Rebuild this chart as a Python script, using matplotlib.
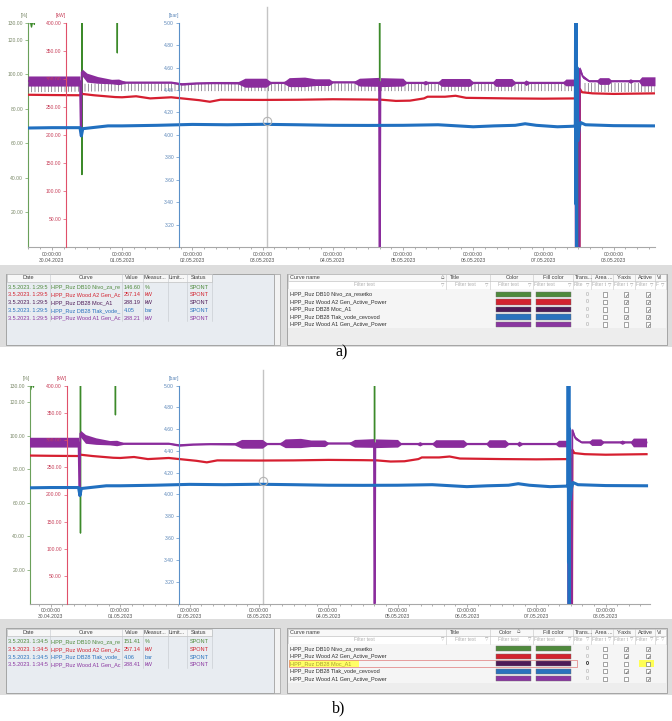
import matplotlib.pyplot as plt
import numpy as np
from matplotlib.patches import Rectangle
from matplotlib.ticker import MultipleLocator

plt.rcParams['font.family'] = ['Liberation Sans', 'DejaVu Sans']
plt.rcParams['hatch.linewidth'] = 0.5

W, H = 672, 721

# ---- trend values (time in days from 30.04.2023 00:00) ----
day_labels = ["30.04.2023", "01.05.2023", "02.05.2023", "03.05.2023", "04.05.2023",
              "05.05.2023", "06.05.2023", "07.05.2023", "08.05.2023"]
pct_ticks = [20, 40, 60, 80, 100, 120, 130]
kw_ticks = [50, 100, 150, 200, 250, 300, 350, 400]
bar_ticks = [3.2, 3.4, 3.6, 3.8, 4.0, 4.2, 4.4, 4.6, 4.8, 5.0]

# DB10 Nivo_za_resetko [%] (mostly above the scale)
green_t = [-0.34, -0.31, -0.29, -0.27, -0.25, -0.23, 0.425, 0.428, 0.431,
           0.93, 0.932, 0.934, 4.665, 4.668, 4.671, 8.59]
green_pct = [128.5, 131.5, 127.5, 131.5, 129, 146.6, 146.6, 42, 146.6,
             146.6, 112.5, 146.6, 146.6, 85, 146.6, 146.6]

# Wood A2 Gen_Active_Power [kW]
red_t = [-0.34, 0.0, 0.40, 0.43, 0.60, 0.90, 1.00, 1.20, 1.40, 1.70, 1.90, 2.10,
         2.25, 2.40, 3.00, 3.50, 4.00, 4.50, 4.70, 4.90, 5.10, 5.30, 5.35, 5.60,
         5.75, 5.90, 6.50, 7.00, 7.50, 7.505, 7.515, 7.52, 7.55, 7.70, 8.00, 8.59]
red_kw = [271.5, 271, 270.6, 273, 270.6, 267.4, 267, 268.8, 265, 267, 264.4, 261.8,
          259, 262.6, 262.3, 262.6, 263.5, 263, 262.6, 260.5, 261, 265, 268, 268,
          269.7, 266, 265, 264.5, 265, 0, 0, 282, 276, 274, 273, 274]

# Wood A1 Gen_Active_Power [kW]: level and half width of the noise band
purple_t = [-0.34, 0.40, 0.412, 0.418, 0.425, 0.50, 0.65, 0.85, 0.95, 1.05,
            1.70, 1.85, 2.05, 2.30, 2.65, 2.75, 3.05, 3.12, 3.30, 3.38,
            3.60, 3.75, 3.95, 4.00, 4.30, 4.38, 4.66, 4.665, 4.672, 4.68,
            5.00, 5.05, 5.28, 5.32, 5.36, 5.50, 5.55, 5.95, 6.00, 6.28,
            6.32, 6.55, 6.60, 6.72, 6.75, 6.80, 7.28, 7.32, 7.455, 7.46,
            7.515, 7.52, 7.56, 7.65, 7.76, 7.80, 7.93, 7.97, 8.20, 8.24,
            8.28, 8.36, 8.40, 8.59]
purple_kw = [296, 296, 198, 198, 312, 302, 298, 295, 294.5, 293.5,
             293.5, 290.5, 292, 292.7, 292.7, 293, 293, 293, 293, 294,
             294.5, 294, 294, 294, 294, 294, 294.5, 0, 0, 294,
             294, 293, 293, 293, 293, 293, 293.5, 293.5, 293, 293,
             293.5, 293.5, 293, 293, 293, 293, 293, 293.5, 293.5, 0,
             0, 318, 304, 296, 296, 296, 296, 296, 296, 296,
             296, 296, 295.5, 295.5]
purple_spread = [9, 9, 0, 0, 6, 8, 6, 4, 5, 1.5,
                 1.5, 2, 1.5, 1.5, 2, 8, 8, 1.5, 1.5, 8,
                 8.5, 6, 6, 1.5, 1.5, 7, 8, 0, 0, 8,
                 7, 1.5, 1.5, 4, 1.5, 1.5, 7, 7, 1.5, 1.5,
                 7, 7, 1.5, 1.5, 5, 1.5, 1.5, 6, 6, 0,
                 0, 4, 3, 1.5, 1.5, 6, 6, 1.5, 1.5, 4,
                 1.5, 1.5, 8, 8]

# DB28 Moc_A1 [kW]: range of its short downward dips
moc_t = [-0.34, 0.40, 1.0, 2.0, 3.0, 4.0, 5.0, 6.0, 7.0, 7.45, 7.455, 7.55, 8.0, 8.59]
moc_low = [276, 277, 278, 278, 278, 278, 278, 278, 278, 278, np.nan, 276, 276, 276]
moc_high = [291, 291, 292, 291.5, 291.5, 292, 291.5, 291.5, 291.5, 291.5, np.nan, 293, 293, 293]

# DB28 Tlak_vode_cevovod [bar]
blue_t = [-0.34, 0.0, 0.40, 0.42, 0.44, 0.80, 1.00, 1.50, 2.00, 2.50,
          3.00, 3.50, 4.00, 4.50, 5.00, 5.50, 6.00, 6.30, 6.60, 6.74,
          6.90, 7.20, 7.44, 7.455, 7.46, 7.465, 7.47, 7.475, 7.48, 7.49,
          7.51, 7.53, 7.60, 8.00, 8.59]
blue_bar = [4.061, 4.064, 4.064, 3.99, 4.055, 4.08, 4.08, 4.085, 4.093, 4.09,
            4.094, 4.09, 4.085, 4.084, 4.085, 4.09, 4.072, 4.08, 4.085, 4.099,
            4.085, 4.072, 4.077, 4.08, 5.3, 3.38, 5.25, 2.9, 4.6, 3.95,
            4.06, 4.11, 4.09, 4.082, 4.08]

cursor_t = 3.06
cursor_bar = 4.12

# ---- table values ----
curve_names = ["HPP_Ruz DB10 Nivo_za_resetko", "HPP_Ruz Wood A2 Gen_Active_Power",
               "HPP_Ruz DB28 Moc_A1", "HPP_Ruz DB28 Tlak_vode_cevovod",
               "HPP_Ruz Wood A1 Gen_Active_Power"]
curve_units = ["%", "kW", "kW", "bar", "kW"]
curve_colors = ['#4f8a3c', '#d2232f', '#4e1b57', '#2a72bd', '#8a36a0']
values_a = ["146.60", "257.14", "288.19", "4.05", "288.21"]
values_b = ["151.41", "257.14", "", "4.06", "288.41"]
stamp_a = "3.5.2023. 1:29:50"
stamp_b = "3.5.2023. 1:34:50"
yaxis_flags = [True, True, False, True, False]
active_a = [True, True, True, True, True]
active_b = [True, True, False, True, True]

C_GREEN, C_RED, C_BLUE = '#3c8a2a', '#d61f30', '#2170c0'
C_PURPLE, C_MOC = '#8a2c9c', '#6a6272'

fig = plt.figure(figsize=(W / 100, H / 100), dpi=100)
renderer = fig.canvas.get_renderer()


def draw_trend(box, kw_x, bar_x, xlim, show_moc):
    l, t, r, b = box
    w, h = r - l, b - t
    ax = fig.add_axes([l / W, 1 - b / H, w / W, h / H])
    ax_kw = ax.twinx()
    ax_bar = ax.twinx()

    ax.set_xlim(*xlim)
    ax.set_ylim(0, 130)
    ax_kw.set_ylim(0, 400)
    ax_bar.set_ylim(3.0, 5.0)

    for a in (ax, ax_kw, ax_bar):
        a.spines['top'].set_visible(False)
        a.spines['right'].set_visible(False)
    for a in (ax_kw, ax_bar):
        a.spines['bottom'].set_visible(False)
        a.spines['left'].set_visible(True)
        a.tick_params(axis='y', left=True, right=False, labelleft=True, labelright=False)
    ax_kw.spines['left'].set_position(('axes', (kw_x - l) / w))
    ax_bar.spines['left'].set_position(('axes', (bar_x - l) / w))

    specs = [(ax, pct_ticks, '#6aa05a', '#7a8868', '[%]', 0.0),
             (ax_kw, kw_ticks, '#e0506a', '#c8405a', '[kW]', (kw_x - l) / w),
             (ax_bar, bar_ticks, '#5a90c8', '#5b86b8', '[bar]', (bar_x - l) / w)]
    for a, ticks, spine_c, lab_c, unit, fx in specs:
        a.set_yticks(ticks, [f"{v:.2f}" for v in ticks])
        a.spines['left'].set_color(spine_c)
        a.spines['left'].set_linewidth(0.8)
        a.tick_params(axis='y', labelsize=3.6, length=2, width=0.5, pad=1.5,
                      color=spine_c, labelcolor=lab_c)
        a.text(fx, 1 + 7 / h, unit, transform=a.transAxes, ha='right', va='center',
               fontsize=3.6, color=lab_c)
    ax_kw.spines['left'].set_linestyle((0, (2, 1)))

    ax.spines['bottom'].set_color('#a8a8a8')
    ax.spines['bottom'].set_linewidth(0.8)
    ax.set_xticks(range(len(day_labels)), [f"00:00:00\n{d}" for d in day_labels])
    ax.xaxis.set_minor_locator(MultipleLocator(1 / 6))
    ax.tick_params(axis='x', which='both', labelsize=3.6, length=2.5, width=0.5,
                   pad=1, color='#909090', labelcolor='#505050')
    ax.tick_params(axis='x', which='minor', length=1.5)

    ax.axvline(cursor_t, ymin=0, ymax=1 + 16 / h, clip_on=False,
               color='#c4c4c4', lw=1.0)
    ax.plot(green_t, green_pct, color=C_GREEN, lw=1.0)

    if show_moc:
        ax_kw.fill_between(moc_t, moc_low, moc_high, facecolor='none',
                           edgecolor=C_MOC, hatch='|||||', lw=0)
    ax_kw.plot(red_t, red_kw, color=C_RED, lw=1.6)
    pc = np.array(purple_kw)
    ps = np.array(purple_spread)
    ax_kw.fill_between(purple_t, pc - ps, pc + ps, color=C_PURPLE, lw=0)
    ax_kw.plot(purple_t, purple_kw, color=C_PURPLE, lw=1.3)

    ax_bar.plot(blue_t, blue_bar, color=C_BLUE, lw=2.2)
    ax_bar.plot([cursor_t], [cursor_bar], marker='o', ms=6, mfc='none',
                mec='#b4b4b4', mew=0.8)


draw_trend((28, 22.7, 655, 247), 66, 179, (-0.34, 8.59), True)
draw_trend((30, 385.5, 650, 603.5), 66.7, 179, (-0.30, 8.64), False)

# ---- overlay in pixel coordinates for the tables ----
ov = fig.add_axes([0, 0, 1, 1])
ov.set_xlim(0, W)
ov.set_ylim(H, 0)
ov.axis('off')


def put(x, y, s, x0=None, x1=None, size=4.0, color='#303030', ha='left', **kw):
    # cell text, cut to the width of its cell like the grid does
    txt = ov.text(x, y, s, ha=ha, va='center', fontsize=size, color=color, **kw)
    if x0 is not None:
        cur = s
        while cur and txt.get_window_extent(renderer).width > (x1 - x0):
            cur = cur[:-1]
            txt.set_text(cur)
    return txt


def checkbox(x, y, checked):
    ov.add_patch(Rectangle((x - 2.2, y - 2.2), 4.4, 4.4, fc='white', ec='#606060', lw=0.4))
    if checked:
        put(x, y, '✓', size=3.8, color='#404040', ha='center')


def draw_tables(top, bottom, stamp, values, rows, active, color_x, pin_x, highlight=None):
    ov.add_patch(Rectangle((0, top - 9), W, bottom - top + 11, fc='#dddddd', ec='none'))

    # left table: current values
    ov.add_patch(Rectangle((6, top), 268, bottom - top, fc='#e8ecf1', ec='#9a9a9a', lw=0.6))
    ov.add_patch(Rectangle((7, top + 0.5), 205, 7.5, fc='#f7f7f7', ec='#b5b5b5', lw=0.4))
    ov.add_patch(Rectangle((274, top), 6, bottom - top, fc='#f3f3f3', ec='#a0a0a0', lw=0.5))
    lcols = [7, 50, 122, 143, 168, 187, 212]
    rows_end = top + 9 + len(rows) * 7.75
    for c in lcols[1:]:
        ov.plot([c, c], [top + 0.5, rows_end], color='#c4c8cc', lw=0.4)
    for name, x in zip(["Date", "Curve", "Value", "Measur...", "Limit...", "Status"],
                       [28, 86, 132, 155, 177, 199]):
        put(x, top + 4, name, size=4.0, color='#404040', ha='center')
    for j, k in enumerate(rows):
        y = top + 13.7 + j * 7.75
        col = curve_colors[k]
        put(8, y, stamp, 8, 49.5, color=col)
        put(51, y, curve_names[k], 51, 121.5, color=col)
        put(124, y, values[k], 124, 142.5, color=col)
        put(145, y, curve_units[k], 145, 167.5, color=col)
        put(190, y, "SPONT", 190, 211.5, color=col)

    # right table: curve settings
    ov.add_patch(Rectangle((287, top), 380, bottom - top, fc='#ededed', ec='#9a9a9a', lw=0.6))
    ov.add_patch(Rectangle((288, top + 0.5), 378, 7, fc='#f8f8f8', ec='#b5b5b5', lw=0.4))
    ov.add_patch(Rectangle((288, top + 7.5), 378, 8, fc='white', ec='#c8c8c8', lw=0.4))
    ov.add_patch(Rectangle((288, top + 15.5), 378, 5 * 7.5 + 1.5, fc='#f5f5f5', ec='none'))
    rcols = [288, 446, 490, 533, 573, 591, 613, 635, 655, 666]
    for c in rcols[1:-1]:
        ov.plot([c, c], [top + 0.5, top + 15.5], color='#c4c4c4', lw=0.4)
    heads = [("Curve name", 290, 'left'), ("Title", 450, 'left'), ("Color", color_x, 'center'),
             ("Fill color", 553, 'center'), ("Trans...", 575, 'left'),
             ("Area ...", 595, 'left'), ("Y-axis", 624, 'center'),
             ("Active", 645, 'center'), ("Vi", 657, 'left')]
    for name, x, ha in heads:
        put(x, top + 4, name, size=4.0, color='#404040', ha=ha)
    put(pin_x, top + 3.8, '⌂', size=4.2, color='#303030', ha='center')
    for c0, c1 in zip(rcols[:-1], rcols[1:]):
        fy = top + 11.5
        if c1 - c0 > 40:
            put((c0 + c1) / 2 - 3, fy, "Filter text", 0, c1 - c0 - 8,
                size=3.6, color='#b0b0b0', ha='center')
        else:
            put(c0 + 1, fy, "Filter text", c0 + 1, c1 - 6, size=3.6, color='#b0b0b0')
        put(c1 - 3, fy, '▽', size=3.2, color='#909090', ha='center')

    for k in range(len(curve_names)):
        y = top + 20.8 + k * 7.5
        name_col = '#303030'
        trans_kw = dict(color='#a0a0a0')
        if highlight == k:
            ov.add_patch(Rectangle((289, y - 3.6), 70, 7.2, fc='#ffff66', ec='none'))
            ov.add_patch(Rectangle((288.5, y - 3.7), 288, 7.4, fc='none', ec='#e07a7a', lw=0.5))
            ov.add_patch(Rectangle((639, y - 3.6), 15, 7.2, fc='#ffff55', ec='none'))
            name_col = '#a8a030'
            trans_kw = dict(color='#101010', fontweight='bold')
        put(290, y, curve_names[k], 290, 444, color=name_col)
        ov.add_patch(Rectangle((496, y - 2.7), 35, 5.4, fc=curve_colors[k], ec='#707070', lw=0.3))
        ov.add_patch(Rectangle((536, y - 2.7), 35, 5.4, fc=curve_colors[k], ec='#707070', lw=0.3))
        put(589, y, "0", size=3.8, ha='right', **trans_kw)
        checkbox(605, y, False)
        checkbox(626, y, yaxis_flags[k])
        checkbox(648, y, active[k])


draw_tables(273.5, 345, stamp_a, values_a, [0, 1, 2, 3, 4], active_a, 512, 442)
draw_tables(628, 693, stamp_b, values_b, [0, 1, 3, 4], active_b, 505, 518, highlight=2)

ov.text(342, 352, "a)", ha='center', va='center', fontsize=11.5,
        family=['Liberation Serif', 'DejaVu Serif'])
ov.text(339, 708, "b)", ha='center', va='center', fontsize=11.5,
        family=['Liberation Serif', 'DejaVu Serif'])

fig.savefig('out.png', dpi=100)
